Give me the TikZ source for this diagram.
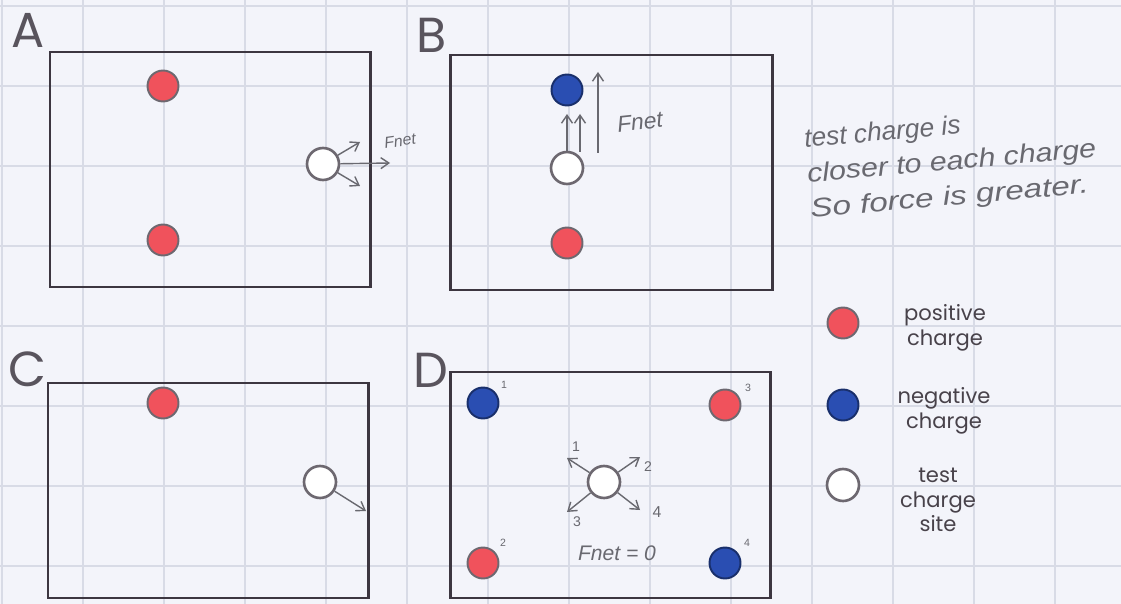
\documentclass[tikz,border=0pt]{standalone}
\usepackage{fontspec}
\setmainfont{Poppins}
\newfontfamily\handfont{Liberation Sans}
\usetikzlibrary{arrows.meta,positioning}
\definecolor{paperBg}{RGB}{243,244,250}
\definecolor{gridGray}{RGB}{216,219,230}
\definecolor{boxInk}{RGB}{60,54,64}
\definecolor{posRed}{RGB}{240,82,92}
\definecolor{negBlue}{RGB}{42,78,178}
\definecolor{pencilGray}{RGB}{105,105,112}
\definecolor{legendInk}{RGB}{72,66,74}
\tikzset{
  grid line/.style={draw=gridGray,line width=0.6pt},
  panel/.style={draw=boxInk,line width=1.7pt},
  panel label/.style={text=boxInk!85,font=\fontsize{28}{28}\selectfont,inner sep=0pt},
  pos charge/.style={circle,draw=boxInk!75,fill=posRed,line width=1.1pt,minimum size=6.2mm,inner sep=0pt},
  neg charge/.style={circle,draw=negBlue!60!black,fill=negBlue,line width=1.1pt,minimum size=6.2mm,inner sep=0pt},
  test site/.style={circle,draw=boxInk!75,fill=white,line width=1.5pt,minimum size=6.4mm,inner sep=0pt},
  force arrow/.style={-{Straight Barb[length=1.6mm,width=2.2mm]},draw=pencilGray,line width=0.8pt},
  hand note/.style={text=pencilGray,font=\handfont\itshape\fontsize{15}{18}\selectfont,inner sep=0pt},
  tiny num/.style={text=pencilGray,font=\handfont\fontsize{6}{6}\selectfont,inner sep=0pt},
  key text/.style={text=legendInk,font=\fontsize{12}{14}\selectfont,align=center,inner sep=0pt}
}
\begin{document}
\begin{tikzpicture}[x=0.02cm,y=-0.02cm]
  \fill[paperBg] (0,0) rectangle (1121,604);
  \useasboundingbox (0,0) rectangle (1121,604);
  % paper grid
  \foreach \gx in {0,...,13} \draw[grid line] ({2+81*\gx},0) -- ({2+81*\gx},604);
  \foreach \gy in {0,...,7} \draw[grid line] (0,{6+80*\gy}) -- (1121,{6+80*\gy});

  % panels
  \draw[panel] (50,52) rectangle (370,287);
  \draw[panel] (450,55) rectangle (772,290);
  \draw[panel] (48,383) rectangle (368,598);
  \draw[panel] (450,372) rectangle (770,598);
  \node[panel label] (labA) at (28,30) {A};
  \node[panel label] (labB) at (432,35) {B};
  \node[panel label] (labC) at (27,369) {C};
  \node[panel label] (labD) at (431,370) {D};

  % A
  \node[pos charge] (aTop) at (163,86) {};
  \node[pos charge] (aBot) at (163,240) {};
  \node[test site] (aTest) at (323,164) {};
  \coordinate (aUp) at (360,142);
  \coordinate (aDown) at (360,186);
  \coordinate (aNet) at (390,163);
  \draw[force arrow] (aTest) -- (aUp);
  \draw[force arrow] (aTest) -- (aDown);
  \draw[force arrow] (aTest) -- (aNet);
  \node[hand note,font=\handfont\itshape\fontsize{9}{9}\selectfont,rotate=8] (aFnet) at (400,141) {Fnet};

  % B
  \node[neg charge] (bTop) at (567,90) {};
  \node[test site] (bTest) at (567,168) {};
  \node[pos charge] (bBot) at (567,243) {};
  \coordinate (bL0) at (567,151);
  \coordinate (bL1) at (567,114);
  \coordinate (bR0) at (580,152);
  \coordinate (bR1) at (580,114);
  \coordinate (bN0) at (598,153);
  \coordinate (bN1) at (598,72);
  \draw[force arrow] (bL0) -- (bL1);
  \draw[force arrow] (bR0) -- (bR1);
  \draw[force arrow] (bN0) -- (bN1);
  \node[hand note,font=\handfont\itshape\fontsize{13}{13}\selectfont,rotate=6] (bFnet) at (640,122) {Fnet};
  \node[hand note,rotate=5,anchor=north west,align=left,font=\handfont\itshape\fontsize{15}{18}\selectfont]
    (note) at (803,128) {test charge is\\[2pt]\scalebox{1.15}[1]{closer to each charge}\\[2pt]\scalebox{1.26}[1]{So force is greater.}};

  % C
  \node[pos charge] (cTop) at (163,403) {};
  \node[test site] (cTest) at (320,482) {};
  \coordinate (cNet) at (366,511);
  \draw[force arrow] (cTest) -- (cNet);

  % D
  \node[neg charge] (dQ1) at (483,403) {};
  \node[pos charge] (dQ2) at (483,563) {};
  \node[pos charge] (dQ3) at (725,405) {};
  \node[neg charge] (dQ4) at (725,563) {};
  \node[tiny num] at (504,385) {1};
  \node[tiny num] at (503,543) {2};
  \node[tiny num] at (748,388) {3};
  \node[tiny num] at (747,543) {4};
  \node[test site] (dTest) at (604,482) {};
  \coordinate (dF1) at (567,458);
  \coordinate (dF2) at (640,457);
  \coordinate (dF3) at (567,512);
  \coordinate (dF4) at (640,510);
  \foreach \k in {1,...,4} \draw[force arrow] (dTest) -- (dF\k);
  \node[tiny num,font=\handfont\fontsize{8}{8}\selectfont] at (576,447) {1};
  \node[tiny num,font=\handfont\fontsize{8}{8}\selectfont] at (648,467) {2};
  \node[tiny num,font=\handfont\fontsize{8}{8}\selectfont] at (577,522) {3};
  \node[tiny num,font=\handfont\fontsize{9}{9}\selectfont] at (657,512) {4};
  \node[hand note,font=\handfont\itshape\fontsize{12}{12}\selectfont] (dFnet) at (617,553) {Fnet = 0};

  % legend
  \node[pos charge] (keyPos) at (843,323) {};
  \node[neg charge] (keyNeg) at (843,405) {};
  \node[test site] (keyTest) at (843,485) {};
  \node[key text] (txtPos) at (945,328) {positive\\charge};
  \node[key text] (txtNeg) at (944,411) {negative\\charge};
  \node[key text] (txtTest) at (938,500) {test\\charge\\site};
\end{tikzpicture}
\end{document}
